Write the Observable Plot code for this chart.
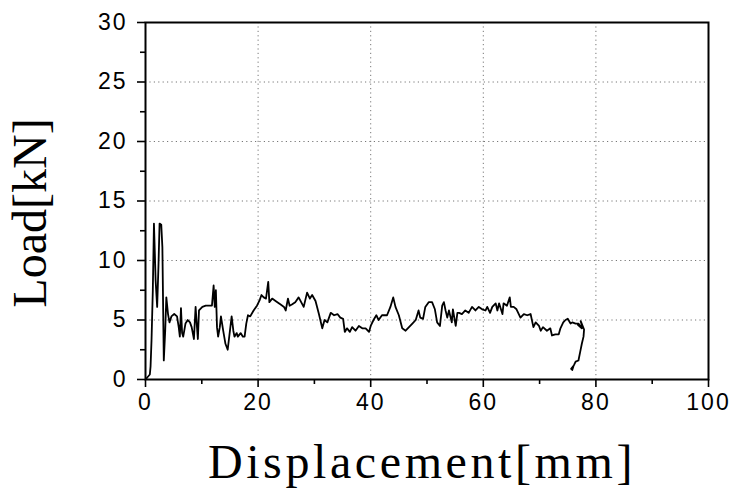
<!DOCTYPE html>
<html>
<head>
<meta charset="utf-8">
<script src="https://cdn.jsdelivr.net/npm/d3@7"></script>
<script src="https://cdn.jsdelivr.net/npm/@observablehq/plot@0.6"></script>
<style>
  html, body { margin: 0; padding: 0; background: #fff; }
</style>
</head>
<body>
<script>
// Displacement [mm] and Load [kN]
const displacement = [0,0.77,0.9,1.07,1.3,1.5,1.66,1.8,2.07,2.3,2.5,2.8,3.0,3.25,3.5,3.7,4.0,4.26,4.6,5.1,5.6,5.9,6.1,6.3,6.5,6.7,7.1,7.5,7.9,8.2,8.6,8.9,9.05,9.3,9.5,10.1,10.7,11.8,12.1,12.3,12.5,12.7,12.9,13.2,13.4,13.8,14.2,14.6,15.0,15.3,15.6,15.8,16.2,16.4,16.9,17.3,17.6,17.9,18.2,18.6,19.2,19.8,20.3,20.6,21.0,21.4,21.8,22.0,22.5,23.1,24.0,24.6,24.9,25.3,25.6,26.0,26.6,27.2,28.1,28.7,29.2,29.6,30.2,30.8,31.4,31.8,32.3,32.9,33.5,34.1,34.6,35.1,35.4,35.8,36.3,36.7,37.3,37.9,38.5,39.1,39.7,40.0,40.5,41.0,41.4,42.0,42.9,43.5,44.0,44.4,45.0,45.6,46.2,46.8,47.4,48.0,48.5,48.8,49.3,49.7,50.3,50.9,51.4,51.8,52.3,52.7,53.0,53.3,53.6,53.9,54.4,54.6,55.1,55.4,55.7,56.2,56.8,57.4,58.0,58.6,59.2,59.8,60.4,60.7,61.2,61.6,62.2,62.5,62.8,63.4,63.6,64.2,64.7,64.9,65.4,65.9,66.6,67.2,67.8,68.4,68.9,69.3,69.9,70.2,70.6,71.3,71.9,72.2,72.8,73.4,73.7,74.2,74.6,75.0,75.5,75.8,76.4,76.9,77.5,76.8,77.6,77.3,77.9,77.8,77.5,77.2,76.9,76.4,76.1,75.6,75.8,76.0];
const load = [0,0.42,1.1,3.3,7.5,13.1,10.6,8.3,6.1,9.5,13.1,13.0,11.1,1.6,4.1,6.9,5.5,4.8,5.3,5.5,5.3,4.4,3.6,6.0,3.9,3.6,4.7,5.0,4.8,4.4,3.4,6.1,5.0,3.4,5.8,6.1,6.2,6.2,7.9,6.1,7.5,4.4,3.6,4.4,5.3,4.1,3.0,2.5,4.1,5.3,4.1,3.6,3.9,3.6,3.9,3.6,3.6,4.7,5.4,5.3,5.8,6.2,6.7,7.1,6.9,6.8,8.2,6.5,6.8,6.6,6.3,6.1,5.8,6.8,6.2,6.3,6.5,6.9,6.1,7.3,6.8,7.1,6.6,5.5,4.3,5.0,4.8,5.6,5.4,5.5,5.2,5.1,4.0,4.3,4.0,4.4,4.1,4.5,4.3,4.3,4.0,4.5,5.0,5.4,5.0,5.4,5.4,6.1,6.9,6.1,5.4,4.3,4.1,4.4,4.7,5.0,5.8,5.2,5.1,6.1,6.5,6.5,5.9,4.8,4.5,6.2,6.5,5.8,5.2,5.8,4.8,5.9,4.5,5.6,5.6,5.5,5.8,5.6,6.1,5.8,6.1,5.9,5.8,6.1,5.6,6.1,6.4,5.8,6.4,5.5,6.4,6.2,6.9,6.1,6.1,5.9,5.2,5.5,5.4,5.5,4.4,4.8,4.5,4.1,4.4,4.1,4.3,3.7,3.8,3.8,4.3,4.8,5.0,5.1,4.7,4.8,4.7,4.7,4.3,4.6,4.4,4.9,4.2,3.6,3.0,2.3,1.6,1.5,1.2,0.9,0.8,1.1];

const xTicks = [0, 20, 40, 60, 80, 100];
const xMinor = [10, 30, 50, 70, 90];
const yTicks = [0, 5, 10, 15, 20, 25, 30];
const yMinor = [2.5, 7.5, 12.5, 17.5, 22.5, 27.5];
const xGrid = [20, 40, 60, 80];
const yGrid = [5, 10, 15, 20, 25];
const xLabel = "Displacement[mm]";
const yLabel = "Load[kN]";

const data = displacement.map((d, i) => ({x: d, y: load[i]}));
const serif = "'Liberation Serif', 'Times New Roman', serif";

const chart = Plot.plot({
  width: 737,
  height: 493,
  marginLeft: 145,
  marginRight: 29,
  marginTop: 22,
  marginBottom: 114,
  style: {fontFamily: "'Liberation Sans', Arial, sans-serif", fontSize: "23px", color: "#000", background: "#fff"},
  x: {domain: [0, 100]},
  y: {domain: [0, 30]},
  marks: [
    Plot.ruleX(xGrid, {stroke: "#777", strokeWidth: 1, strokeDasharray: "1.2,3.2"}),
    Plot.ruleY(yGrid, {stroke: "#777", strokeWidth: 1, strokeDasharray: "1.2,3.2"}),
    Plot.axisX(xTicks, {tickSize: 8, tickPadding: 6, strokeWidth: 1.6, label: null, fontSize: 23}),
    Plot.axisX(xMinor, {tickSize: 5, strokeWidth: 1.6, text: null, label: null}),
    Plot.axisY(yTicks, {tickSize: 8, tickPadding: 10, strokeWidth: 1.6, label: null, fontSize: 23}),
    Plot.axisY(yMinor, {tickSize: 5, strokeWidth: 1.6, text: null, label: null}),
    Plot.line(data, {x: "x", y: "y", stroke: "#000", strokeWidth: 1.8, strokeLinejoin: "round"}),
    Plot.frame({stroke: "#000", strokeWidth: 2}),
    Plot.text([xLabel], {frameAnchor: "bottom", text: d => d, textAnchor: "middle", dx: -5, dy: 83, fontSize: 48, fontFamily: serif, lineAnchor: "middle"}),
    Plot.text([yLabel], {frameAnchor: "left", text: d => d, textAnchor: "middle", rotate: -90, dx: -115, dy: 12, fontSize: 48, fontFamily: serif, lineAnchor: "middle"})
  ]
});
document.body.append(chart);

// styling tweaks: tick label size/spacing and axis title letter spacing
d3.select(chart).selectAll("text").each(function() {
  const t = this.textContent;
  if (/^\d+$/.test(t)) {
    this.style.fontSize = "23px";
    this.style.letterSpacing = "2px";
  } else if (t === xLabel) {
    this.style.letterSpacing = "3.6px";
  }
});
</script>
</body>
</html>
